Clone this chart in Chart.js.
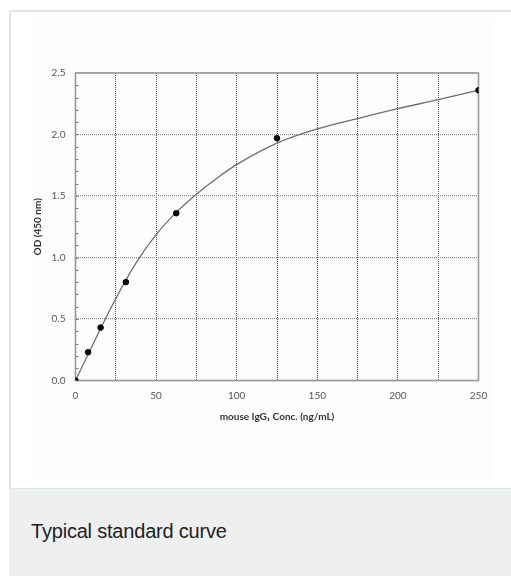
<!DOCTYPE html>
<html>
<head>
<meta charset="utf-8">
<script src="https://cdn.jsdelivr.net/npm/chart.js@4.4.1/dist/chart.umd.min.js"></script>
<style>
  body { margin: 0; background: #fff; width: 511px; height: 576px; overflow: hidden; position: relative; }
  .panel { position: absolute; left: 9px; top: 10px; width: 510px; height: 476px; border-top: 2px solid #e2e2e2; border-left: 2px solid #e2e2e2; background: #fff; }
  .inner { position: absolute; left: 32px; top: 17px; width: 461px; height: 466px; background: #fcfdfc; }
  .caption { position: absolute; left: 9px; top: 488px; width: 510px; height: 88px; background: #eeefef; border-top: 1px solid #e4e4e4; }
  .caption span { position: absolute; left: 22px; top: 31px; font: 20px "Liberation Sans", Arial, sans-serif; color: #222; letter-spacing: -0.2px; }
  #chart { position: absolute; left: 0; top: 0; }
</style>
</head>
<body>
<div class="panel"></div>
<div class="inner"></div>
<div class="caption"><span>Typical standard curve</span></div>
<canvas id="chart" width="511" height="488"></canvas>
<script>
// standards (measured points)
const stdConc = [0, 7.8, 15.6, 31.25, 62.5, 125, 250];
const stdOD = [0, 0.23, 0.43, 0.80, 1.36, 1.97, 2.36];

// fitted curve
const fitConc = [0, 12.5, 25, 37.5, 50, 62.5, 75, 87.5, 100, 125, 150, 175, 200, 225, 250];
const fitOD = [0, 0.34, 0.667, 0.955, 1.186, 1.367, 1.515, 1.643, 1.755, 1.93, 2.045, 2.13, 2.21, 2.283, 2.36];

// axes
const xMin = 0, xMax = 250, xStep = 25, xLabelStep = 50;
const yMin = 0, yMax = 2.5, yStep = 0.5, yMinorStep = 0.1;
const xTitle = 'mouse IgG\u2081 Conc. (ng/mL)';
const yTitle = 'OD (450 nm)';

const toPoints = (xs, ys) => xs.map((x, i) => ({ x: x, y: ys[i] }));

//borda do grafico e marcas menores no eixo y
const framePlugin = {
    id: 'frame',
    beforeDatasetsDraw(chart) {
        const { ctx, chartArea: a, scales } = chart;
        ctx.save();
        ctx.strokeStyle = '#777';
        ctx.lineWidth = 1;
        for (let v = yMin + yMinorStep; v < yMax - 0.001; v += yMinorStep) {
            const y = Math.round(scales.y.getPixelForValue(v)) + 0.5;
            ctx.beginPath();
            ctx.moveTo(a.left, y);
            ctx.lineTo(a.left + 3, y);
            ctx.stroke();
        }
        ctx.strokeStyle = '#999';
        ctx.lineWidth = 1.6;
        ctx.strokeRect(a.left, a.top, a.right - a.left, a.bottom - a.top);
        ctx.restore();
    }
};

new Chart(document.getElementById('chart').getContext('2d'), {
    type: 'scatter',
    data: {
        datasets: [{
            label: 'fit',
            data: toPoints(fitConc, fitOD),
            showLine: true,
            borderColor: '#6f6f6f',
            borderWidth: 1.3,
            pointRadius: 0,
            cubicInterpolationMode: 'monotone',
            order: 2
        }, {
            label: 'standards',
            data: toPoints(stdConc, stdOD),
            backgroundColor: '#000',
            borderColor: '#000',
            pointRadius: 2.8,
            order: 1
        }]
    },
    options: {
        responsive: false,
        animation: false,
        layout: { padding: { left: 0, top: 73, right: 32.5, bottom: 0 } },
        plugins: { legend: { display: false }, tooltip: { enabled: false } },
        scales: {
            x: {
                type: 'linear',
                min: xMin,
                max: xMax,
                afterFit(scale) { scale.height = 107.5; },
                grid: { color: '#555', lineWidth: 1, drawTicks: false },
                border: { display: false, dash: [1, 1] },
                ticks: {
                    stepSize: xStep,
                    autoSkip: false,
                    maxRotation: 0,
                    padding: 9,
                    color: '#555',
                    font: { family: 'Lato', size: 10 },
                    callback: v => (v % xLabelStep === 0 ? String(v) : '')
                },
                title: {
                    display: true,
                    text: xTitle,
                    color: '#333',
                    font: { family: 'Lato', size: 10, weight: 'bold' },
                    padding: { top: 0, bottom: 65 }
                }
            },
            y: {
                type: 'linear',
                min: yMin,
                max: yMax,
                afterFit(scale) { scale.width = 75.5; },
                grid: { color: '#8a8a8a', lineWidth: 1.2, drawTicks: false },
                border: { display: false, dash: [1, 1] },
                ticks: {
                    stepSize: yStep,
                    padding: 10,
                    color: '#555',
                    font: { family: 'Lato', size: 10 },
                    callback: v => v.toFixed(1)
                },
                title: {
                    display: true,
                    text: yTitle,
                    color: '#333',
                    font: { family: 'Lato', size: 10, weight: 'bold' },
                    padding: { top: 32, bottom: 0 }
                }
            }
        }
    },
    plugins: [framePlugin]
});
</script>
</body>
</html>
